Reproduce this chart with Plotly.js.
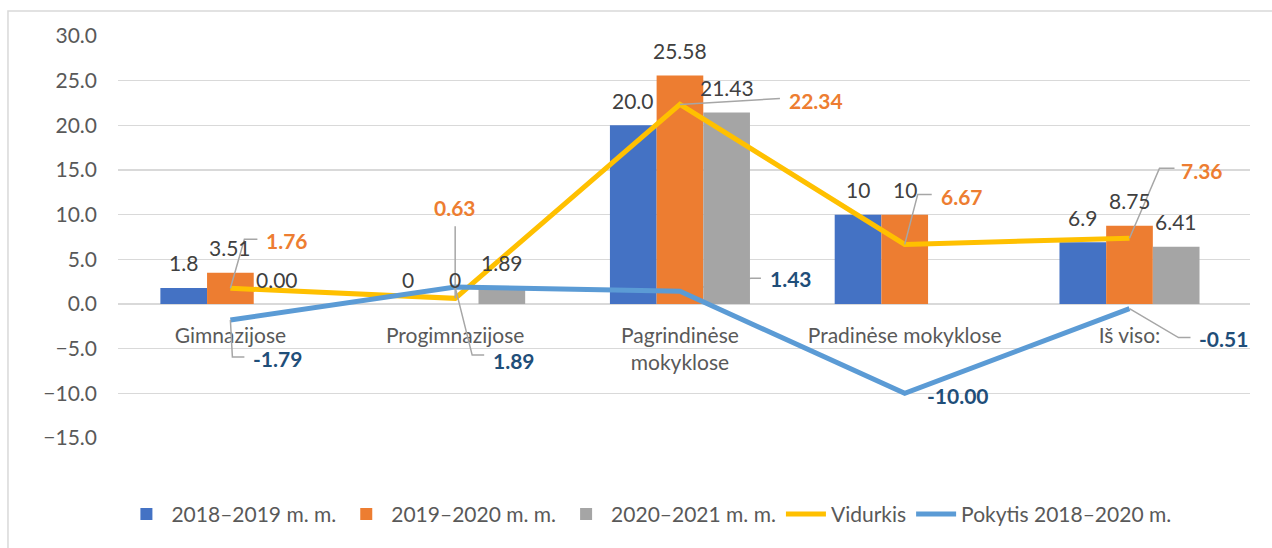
<!DOCTYPE html>
<html><head><meta charset="utf-8">
<script src="https://cdn.plot.ly/plotly-3.0.1.min.js"></script>
<style>html,body{margin:0;padding:0;background:#fff}#chart{width:1272px;height:548px}</style>
</head><body><div id="chart"></div>
<script>
// ---- data ----
const categories = ['Gimnazijose', 'Progimnazijose', 'Pagrindinėse mokyklose', 'Pradinėse mokyklose', 'Iš viso:'];
const tickLabels = ['Gimnazijose', 'Progimnazijose', 'Pagrindinėse<br>mokyklose', 'Pradinėse mokyklose', 'Iš viso:'];
const seriesNames = ['2018–2019 m. m.', '2019–2020 m. m.', '2020–2021 m. m.', 'Vidurkis', 'Pokytis 2018–2020 m.'];
const y2018 = [1.8, 0, 20.0, 10, 6.9];
const y2019 = [3.51, 0, 25.58, 10, 8.75];
const y2020 = [0.00, 1.89, 21.43, null, 6.41];
const vidurkis = [1.76, 0.63, 22.34, 6.67, 7.36];
const pokytis = [-1.79, 1.89, 1.43, -10.00, -0.51];
const text2018 = ['1.8', '0', '20.0', '10', '6.9'];
const text2019 = ['3.51', '0', '25.58', '10', '8.75'];
const text2020 = ['0.00', '1.89', '21.43', '', '6.41'];
const textVidurkis = ['1.76', '0.63', '22.34', '6.67', '7.36'];
const textPokytis = ['-1.79', '1.89', '1.43', '-10.00', '-0.51'];
const yTicks = [-15, -10, -5, 0, 5, 10, 15, 20, 25, 30];

// ---- style / placement (not data) ----
const FONT = 'Lato, "Open Sans", sans-serif';
const C = {blue: '#4472C4', orange: '#ED7D31', gray: '#A5A5A5', gold: '#FFC000', sky: '#5B9BD5', navy: '#1F4E79', txt: '#404040', axis: '#595959', grid: '#D9D9D9', leader: '#A6A6A6'};
const BARGAP = 0.377;
const barW = (1 - BARGAP) / 3;
// leader lines: screen-pixel offsets from the point (y down); label = centre of label text
const vidLeaders = [
  {path: [[14, -49], [27, -49]], label: [57, -48]},
  {path: [[0, -72]], label: [0, -91]},
  {path: [[100, -6]], label: [136, -4]},
  {path: [[13, -50], [27, -50]], label: [57, -48]},
  {path: [[30, -70], [45, -70]], label: [72, -68]}
];
const pokLeaders = [
  {path: [[2, 37], [14, 37]], label: [47, 39]},
  {path: [[17, 68], [29, 68]], label: [59, 73]},
  {path: [[71, -13], [81, -13]], label: [111, -13], layer: 'below'},
  {path: null, label: [53, 2]},
  {path: [[49, 29], [61, 29]], label: [94, 30]}
];

const traces = [
  {type: 'bar', name: seriesNames[0], x: categories, y: y2018, marker: {color: C.blue}, hoverinfo: 'y'},
  {type: 'bar', name: seriesNames[1], x: categories, y: y2019, marker: {color: C.orange}, hoverinfo: 'y'},
  {type: 'bar', name: seriesNames[2], x: categories, y: y2020, marker: {color: C.gray}, hoverinfo: 'y'},
  {type: 'scatter', mode: 'lines', name: seriesNames[3], x: categories, y: vidurkis, line: {color: C.gold, width: 5}, cliponaxis: false},
  {type: 'scatter', mode: 'lines', name: seriesNames[4], x: categories, y: pokytis, line: {color: C.sky, width: 5}, cliponaxis: false}
];

const annotations = [];
const shapes = [];
[[y2018, text2018], [y2019, text2019], [y2020, text2020]].forEach(([vals, txts], s) => {
  vals.forEach((v, i) => {
    if (v === null || txts[i] === '') return;
    annotations.push({xref: 'x', yref: 'y', x: i + (s - 1) * barW, y: v, text: txts[i], showarrow: false,
      yshift: 25, xanchor: 'center', yanchor: 'middle', font: {family: FONT, size: 21, color: C.txt}});
  });
});

function addLineLabels(vals, txts, leaders, color) {
  vals.forEach((v, i) => {
    const L = leaders[i];
    annotations.push({xref: 'x', yref: 'y', x: i, y: v, text: '<b>' + txts[i] + '</b>', showarrow: false,
      xshift: L.label[0], yshift: -L.label[1], xanchor: 'center', yanchor: 'middle',
      font: {family: FONT, size: 21, color: color}});
    if (L.path) {
      const d = 'M0,0' + L.path.map(p => ' L' + p[0] + ',' + (-p[1])).join('');
      shapes.push({type: 'path', xref: 'x', yref: 'y', xsizemode: 'pixel', ysizemode: 'pixel',
        xanchor: i, yanchor: v, path: d, line: {color: C.leader, width: 1.5}, layer: L.layer || 'above'});
    }
  });
}
addLineLabels(vidurkis, textVidurkis, vidLeaders, C.orange);
addLineLabels(pokytis, textPokytis, pokLeaders, C.navy);

shapes.push({type: 'rect', xref: 'paper', yref: 'paper', x0: -0.0972, x1: 1.03, y0: -0.35, y1: 1.0622,
  line: {color: C.grid, width: 1.5}, fillcolor: 'rgba(0,0,0,0)', layer: 'below'});

const layout = {
  width: 1272, height: 548,
  margin: {l: 118, r: 22, t: 36, b: 110, autoexpand: false},
  paper_bgcolor: '#fff', plot_bgcolor: '#fff',
  font: {family: FONT, size: 20, color: C.axis},
  barmode: 'group', bargap: BARGAP, bargroupgap: 0,
  showlegend: true,
  legend: {orientation: 'h', x: 0.469, xanchor: 'center', y: -0.19, yanchor: 'middle',
    font: {family: FONT, size: 21, color: C.axis}, traceorder: 'normal', itemwidth: 40},
  xaxis: {type: 'category', anchor: 'free', position: 1 / 3, showline: false, ticks: '',
    tickvals: categories, ticktext: tickLabels, tickfont: {family: FONT, size: 21, color: C.axis},
    ticklabelstandoff: 17, showgrid: false, zeroline: false, fixedrange: true},
  yaxis: {range: [-15, 30], tickvals: yTicks, tickformat: '.1f', ticks: '', showline: false,
    gridcolor: C.grid, gridwidth: 1.5, zeroline: true, zerolinecolor: C.grid, zerolinewidth: 1.5,
    tickfont: {family: FONT, size: 21, color: C.axis}, ticklabelstandoff: 20, fixedrange: true},
  annotations: annotations,
  shapes: shapes
};

Plotly.newPlot('chart', traces, layout, {displayModeBar: false, staticPlot: true});
</script>
</body></html>
